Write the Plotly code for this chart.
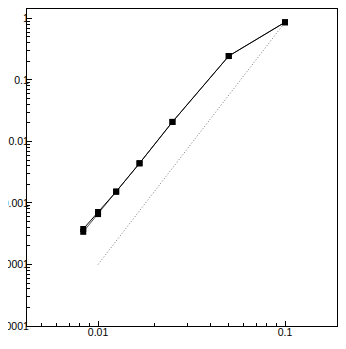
import plotly.graph_objects as go

# step sizes (1/N) and errors
h = [1/120, 1/100, 1/80, 1/60, 1/40, 1/20, 1/10]
err_a = [0.000378, 0.000714, 0.00153, 0.00442, 0.0208, 0.245, 0.867]
err_b = [0.000340, 0.000660, 0.00153, 0.00442, 0.0208, 0.245, 0.867]
ref_x = [0.01, 0.1]
ref_y = [0.0001, 0.867]

y_ticks = [1e-5, 1e-4, 1e-3, 1e-2, 1e-1, 1]
y_labels = ["0.00001", "0.0001", "0.001", "0.01", "0.1", "1"]
x_ticks = [0.01, 0.1]
x_labels = ["0.01", "0.1"]

fig = go.Figure()
fig.add_trace(go.Scatter(x=ref_x, y=ref_y, mode="lines",
                         line=dict(color="#777777", width=1, dash="1px,2px")))
fig.add_trace(go.Scatter(x=h, y=err_b, mode="lines+markers",
                         line=dict(color="#555555", width=1),
                         marker=dict(symbol="square", size=6, color="black")))
fig.add_trace(go.Scatter(x=h, y=err_a, mode="lines+markers",
                         line=dict(color="black", width=1),
                         marker=dict(symbol="square", size=6, color="black")))

axis_style = dict(type="log", showgrid=False, zeroline=False, showline=True,
                  linecolor="black", linewidth=1, mirror=True,
                  ticks="inside", ticklen=5, tickcolor="black",
                  minor=dict(ticks="inside", ticklen=3, tickcolor="black", dtick="D1"),
                  automargin=False,
                  tickfont=dict(family="Liberation Sans, Arial", size=10.5, color="black"))

# page body adds an 8px margin, so the figure is kept a bit smaller
fig.update_layout(
    width=330, height=333,
    margin=dict(l=19, r=1, t=1, b=15),
    plot_bgcolor="white", paper_bgcolor="white",
    showlegend=False,
    xaxis=dict(axis_style, range=[-2.38, -0.722], tickvals=x_ticks, ticktext=x_labels,
               ticklabelstandoff=-4),
    yaxis=dict(axis_style, range=[-5, 0.154], tickvals=y_ticks, ticktext=y_labels,
               ticklabelstandoff=-5),
)

fig.write_html("out.html")
